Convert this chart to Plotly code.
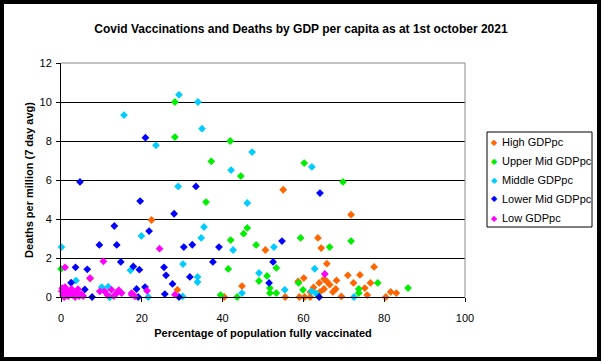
import plotly.graph_objects as go

# ---- data ----
high_x = [22.4, 28.8, 40.4, 44.8, 50.6, 55.0, 55.5, 58.7, 59.0, 60.1, 60.3, 61.7, 61.7, 62.5,
          63.6, 64.4, 63.9, 64.1, 65.1, 65.8, 65.8, 66.5, 65.1, 67.3, 68.0, 68.2, 69.4, 71.0,
          71.8, 72.4, 74.0, 75.2, 75.8, 76.6, 77.5, 80.4, 81.6, 83.0, 7.2]
high_y = [3.95, 0.37, 0.0, 0.56, 2.41, 5.5, 0.0, 0.8, 0.0, 0.97, 0.0, 0.0, 0.26, 0.49,
          3.03, 2.51, 0.72, 0.26, 0.41, 1.71, 0.8, 0.63, 0.92, 0.26, 0.41, 0.85, 0.03, 1.11,
          4.22, 0.72, 1.13, 0.46, 0.1, 0.72, 1.54, 0.0, 0.26, 0.2, 0.95]

upper_x = [0.0, 12.0, 28.2, 28.2, 41.9, 37.2, 60.2, 44.5, 69.8, 35.9, 46.1, 45.2, 42.0, 48.3,
           59.3, 66.5, 71.8, 41.4, 53.3, 49.0, 51.0, 58.8, 39.5, 43.6, 51.7, 51.7, 53.3, 59.9,
           63.4, 73.7, 73.7, 78.4, 85.9]
upper_y = [1.44, 0.0, 10.0, 8.2, 8.0, 6.96, 6.87, 6.2, 5.9, 4.87, 3.54, 3.25, 2.92, 2.67,
           3.03, 2.56, 2.87, 1.44, 1.49, 0.82, 1.08, 0.72, 0.1, 0.0, 0.46, 0.2, 0.2, 0.37,
           0.15, 0.41, 0.2, 0.72, 0.46]

middle_x = [0.1, 3.7, 10.1, 11.7, 12.1, 17.2, 15.6, 23.5, 19.9, 21.6, 29.2, 33.9, 34.9, 47.3,
            62.1, 42.1, 29.0, 46.1, 35.4, 34.7, 42.6, 52.7, 30.2, 62.8, 33.8, 33.8, 49.0, 30.1,
            44.8, 55.4, 62.0, 63.0, 72.5]
middle_y = [2.56, 0.84, 0.51, 0.53, 0.0, 1.37, 9.33, 7.78, 3.13, 0.0, 10.37, 10.0, 8.63, 7.43,
            6.67, 6.51, 5.67, 4.82, 3.59, 3.03, 2.41, 2.56, 1.69, 1.45, 1.03, 0.77, 1.23, 0.03,
            0.2, 0.37, 0.29, 0.2, 0.0]

lower_x = [4.7, 20.9, 3.6, 6.5, 2.5, 5.9, 7.7, 9.5, 13.2, 13.8, 14.8, 17.9, 19.4, 18.7, 19.1,
           19.6, 21.8, 20.8, 25.5, 26.0, 27.6, 25.7, 29.2, 28.0, 33.4, 64.1, 30.4, 32.5, 39.1,
           54.7, 37.6, 52.5, 31.9, 51.5, 63.9]
lower_y = [5.9, 8.17, 1.52, 1.42, 0.73, 0.39, 0.0, 2.67, 3.64, 2.67, 1.8, 1.57, 1.4, 0.41, 0.0,
           4.92, 3.38, 0.51, 1.52, 1.11, 0.67, 0.15, 0.0, 4.27, 5.67, 5.33, 2.56, 2.68, 2.56,
           2.87, 1.8, 1.8, 1.03, 0.72, 0.0]

low_x = [1.0, 10.5, 24.4, 7.2, 65.3, 28.2, 21.3, 17.5, 18.3, 1.0, 2.6, 0.2, 0.5, 0.8, 1.3, 1.8,
         2.2, 3.0, 3.5, 4.0, 4.5, 5.0, 0.3, 1.5, 4.2, 9.6, 10.8, 12.5, 13.1, 13.8, 15.0, 17.5,
         2.8, 5.5, 11.5, 14.3]
low_y = [1.52, 1.83, 2.48, 0.97, 1.18, 0.12, 0.32, 0.2, 0.03, 0.5, 0.41, 0.3, 0.1, 0.0, 0.2, 0.05,
         0.25, 0.1, 0.0, 0.2, 0.05, 0.15, 0.45, 0.35, 0.4, 0.29, 0.29, 0.37, 0.05, 0.2, 0.2, 0.12,
         0.3, 0.05, 0.1, 0.35]

series_names = ["High GDPpc", "Upper Mid GDPpc", "Middle GDPpc", "Lower Mid GDPpc", "Low GDPpc"]
series_x = [high_x, upper_x, middle_x, lower_x, low_x]
series_y = [high_y, upper_y, middle_y, lower_y, low_y]
series_colors = ["#FF6600", "#00EE00", "#00CCFF", "#0000FF", "#FF00FF"]

x_ticks = [0, 20, 40, 60, 80, 100]
y_ticks = [0, 2, 4, 6, 8, 10, 12]

FONT = "Liberation Sans, Arial, sans-serif"

# plot-area geometry in pixels (for paper-coordinate conversions)
L, R, T, B, W, H = 61, 465, 63, 297, 602, 362
PW, PH = R - L, B - T


def px_x(p):
    return (p - L) / PW


def px_y(p):
    return (B - p) / PH


fig = go.Figure()
for name, xs, ys, col in zip(series_names, series_x, series_y, series_colors):
    fig.add_trace(go.Scatter(
        x=xs, y=ys, mode="markers", name=name,
        marker=dict(symbol="diamond", size=6, color=col, line=dict(width=0)),
        cliponaxis=False, showlegend=False,
    ))

fig.update_layout(
    width=W, height=H,
    margin=dict(l=L, r=W - R, t=T, b=H - B, autoexpand=False),
    paper_bgcolor="white", plot_bgcolor="white",
    font=dict(family=FONT, size=11, color="black"),
    title=dict(
        text="<b>Covid Vaccinations and Deaths by GDP per capita as at 1st october 2021</b>",
        x=0.5, xref="container", xanchor="center",
        y=1 - 29 / H, yref="container", yanchor="middle",
        font=dict(family=FONT, size=12, color="black"),
    ),
    xaxis=dict(
        range=[0, 100], tickvals=x_ticks, ticktext=[str(v) for v in x_ticks],
        showgrid=False, zeroline=False,
        showline=True, linecolor="black", linewidth=1,
        ticks="outside", ticklen=4, tickcolor="black", tickwidth=1,
        ticklabelstandoff=7, automargin=False,
        title=dict(text="<b>Percentage of population fully vaccinated</b>",
                   font=dict(size=11), standoff=6),
    ),
    yaxis=dict(
        range=[0, 12], tickvals=y_ticks, ticktext=[str(v) for v in y_ticks],
        showgrid=True, gridcolor="black", gridwidth=1, zeroline=False,
        showline=True, linecolor="black", linewidth=1,
        ticks="outside", ticklen=4, tickcolor="black", tickwidth=1,
        ticklabelstandoff=2, automargin=False,
        title=dict(text="<b>Deaths per million (7 day avg)</b>",
                   font=dict(size=11), standoff=3),
    ),
    showlegend=False,
)

# legend box (drawn manually to match the compact Excel-style legend)
fig.add_shape(type="rect", xref="paper", yref="paper",
              x0=px_x(487), x1=px_x(592), y0=px_y(227), y1=px_y(132),
              line=dict(color="black", width=1), fillcolor="white", layer="above")
for i, (name, col) in enumerate(zip(series_names, series_colors)):
    yy = px_y(142 + 19 * i)
    fig.add_annotation(xref="paper", yref="paper", x=px_x(494), y=yy,
                       text="◆", showarrow=False, xanchor="center", yanchor="middle",
                       font=dict(family="DejaVu Sans", size=8, color=col))
    fig.add_annotation(xref="paper", yref="paper", x=px_x(500), y=yy,
                       text=name, showarrow=False, xanchor="left", yanchor="middle",
                       font=dict(family=FONT, size=11, color="black"))

# top and right plot border (gray) and outer frame
fig.add_shape(type="line", xref="paper", yref="paper", x0=0, x1=1, y0=1, y1=1,
              line=dict(color="#888888", width=1), layer="above")
fig.add_shape(type="line", xref="paper", yref="paper", x0=1, x1=1, y0=0, y1=1,
              line=dict(color="#888888", width=1), layer="above")
fig.add_shape(type="rect", xref="paper", yref="paper",
              x0=px_x(2), x1=px_x(599), y0=px_y(359), y1=px_y(2),
              line=dict(color="black", width=4), layer="above")

fig.write_html("out.html", config={"displayModeBar": False},
               post_script="document.body.style.margin='0';document.body.style.overflow='hidden';")
